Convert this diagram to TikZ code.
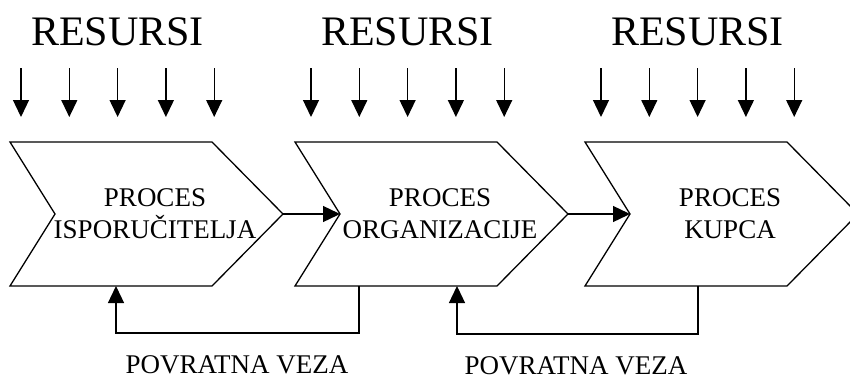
\documentclass[tikz,border=0pt]{standalone}
\usepackage{fontspec}
\setmainfont{Liberation Serif}
\usetikzlibrary{arrows.meta}

\begin{document}
\begin{tikzpicture}
  [x=1pt,y=-1pt,line width=1.3pt,
   tip/.style={-{Triangle[length=17pt,width=16pt]}},
   every node/.style={inner sep=0pt,align=center}]
  \useasboundingbox (0,0) rectangle (850,380);
  \clip (0,0) rectangle (850,380);

  % the three processes
  \foreach \n/\x/\txt in {1/10/{PROCES\\ISPORUČITELJA},2/295/{PROCES\\ORGANIZACIJE},3/585/{PROCES\\KUPCA}} {
    \draw (\x,142) -- ++(202,0) -- ++(71,72) -- ++(-71,72) -- ++(-202,0) -- ++(45,-72) -- cycle;
    \coordinate (tip\n) at (\x+273,214);
    \coordinate (notch\n) at (\x+45,214);
    \node[font=\fontsize{27}{32}\selectfont] (p\n) at (\x+145,214) {\txt};
  }

  \draw[tip] (tip1) -- (notch2);
  \draw[tip] (tip2) -- (notch3);

  % resources
  \foreach \g/\c in {21/1,311/2,601/3} {
    \node[font=\fontsize{42}{42}\selectfont,anchor=base] (r\c) at (\g+96.6,45) {RESURSI};
    \foreach \i in {0,...,4}
      \draw[tip] (\g+\i*48.3,68) -- (\g+\i*48.3,117);
  }

  % feedback
  \coordinate (out1) at (359,286);
  \coordinate (in1) at (116,286);
  \coordinate (out2) at (698,286);
  \coordinate (in2) at (457,286);
  \draw[tip] (out1) -- ++(0,47) -| (in1);
  \draw[tip] (out2) -- ++(0,48) -| (in2);

  \node[font=\fontsize{27}{32}\selectfont,anchor=base] (v1) at (237,373) {POVRATNA VEZA};
  \node[font=\fontsize{27}{32}\selectfont,anchor=base] (v2) at (576,374) {POVRATNA VEZA};

\end{tikzpicture}
\end{document}
